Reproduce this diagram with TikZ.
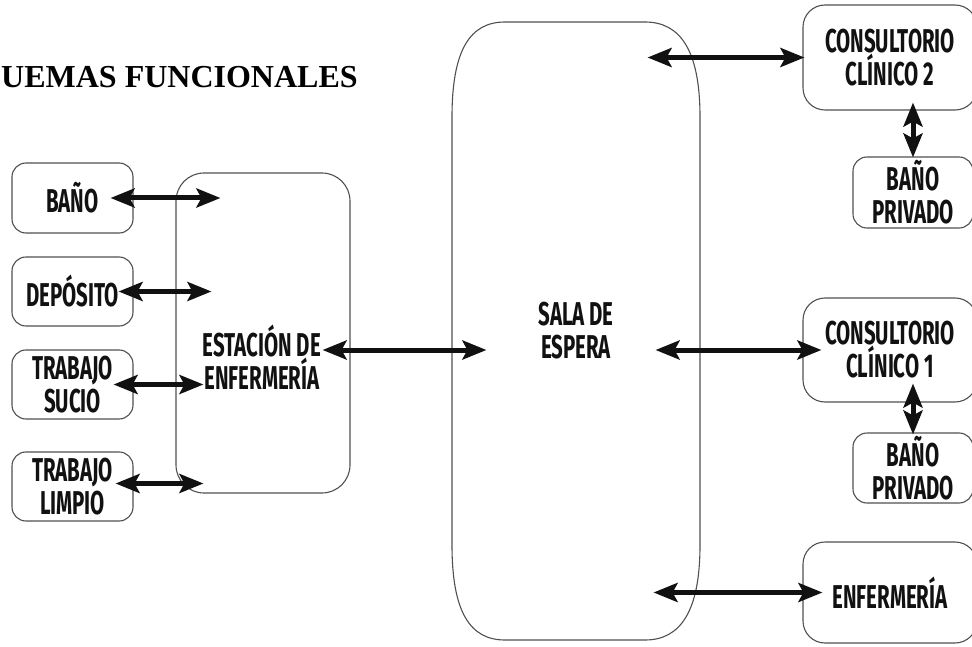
\documentclass[tikz,border=0pt]{standalone}
\usepackage{fontspec}
\setmainfont{Liberation Serif}
\newfontfamily\roomfont[FakeStretch=0.62]{Fira Sans}
\usepackage{tikz}
\usetikzlibrary{arrows.meta, calc, positioning}
\definecolor{boxgray}{HTML}{505050}
\definecolor{inkblack}{HTML}{111111}

\tikzset{
  room/.style={draw=boxgray, line width=1.1pt, rounded corners=14pt, inner sep=0pt,
    align=center, text=inkblack, font=\roomfont\bfseries\fontsize{33}{33}\selectfont},
  biarrow/.style={draw=inkblack, line width=5pt,
    {Stealth[length=24pt,width=19pt,inset=5pt]}-{Stealth[length=24pt,width=19pt,inset=5pt]}}
}

\begin{document}
\begin{tikzpicture}[x=1pt, y=-1pt]
		\useasboundingbox (0,0) rectangle (972,647);
		\clip (0,0) rectangle (972,647);
		\node[anchor=base west, inner sep=0pt, font=\bfseries\fontsize{32}{36}\selectfont] (title) at (1,88) {UEMAS FUNCIONALES};
		
		% left side
		\node[room, minimum width=121pt, minimum height=70pt] (banio) at (72.5,198) {BAÑO};
		\node[room, minimum width=121pt, minimum height=69pt] (deposito) at (72.5,291.5) {DEPÓSITO};
		\node[room, minimum width=121pt, minimum height=69pt] (sucio) at (72.5,384.5) {TRABAJO\\SUCIO};
		\node[room, minimum width=121pt, minimum height=69pt] (limpio) at (72.5,486.5) {TRABAJO\\LIMPIO};
		\node[room, rounded corners=28pt, minimum width=174pt, minimum height=320pt] (estacion) at (263,333) {};
		\node[room, draw=none] (estTxt) at (262,357) {ESTACIÓN DE\\ENFERMERÍA};
		
		% waiting room
		\node[room, draw=none, minimum width=248pt, minimum height=618pt] (sala) at (576,331) {SALA DE\\ESPERA};
		\draw[draw=boxgray, line width=1.1pt] (452,117) .. controls (452,50) and (470,22) .. (505,22) -- (645,22)
			.. controls (680,22) and (700,50) .. (700,117) -- (700,545)
			.. controls (700,612) and (680,640) .. (645,640) -- (505,640)
			.. controls (470,640) and (452,612) .. (452,545) -- cycle;
		
		% right side
		\node[room, rounded corners=22pt, minimum width=174pt, minimum height=105pt] (cons2) at (890,57.5) {CONSULTORIO\\CLÍNICO 2};
		\node[room, minimum width=120pt, minimum height=71pt] (banoA) at (913,192.5) {BAÑO\\PRIVADO};
		\node[room, rounded corners=22pt, minimum width=174pt, minimum height=104pt] (cons1) at (890,350) {CONSULTORIO\\CLÍNICO 1};
		\node[room, minimum width=120pt, minimum height=70pt] (banoB) at (913,468) {BAÑO\\PRIVADO};
		\node[room, rounded corners=22pt, minimum width=174pt, minimum height=101pt] (enfer) at (890,592.5) {ENFERMERÍA};
		
		% connections
		\draw[biarrow, shorten <=-23pt, shorten >=-45pt] (banio.east) -- (estacion.west |- banio.east);
		\draw[biarrow, shorten <=-15pt, shorten >=-36pt] (deposito.east) -- (estacion.west |- deposito.east);
		\draw[biarrow, shorten <=-20pt, shorten >=-28pt] (sucio.east) -- (estacion.west |- sucio.east);
		\draw[biarrow, shorten <=-18pt, shorten >=-28pt] ([yshift=3pt]limpio.east) -- ([yshift=3pt]estacion.west |- limpio.east);
		\draw[biarrow, shorten <=-28pt, shorten >=-35pt] ([yshift=-17pt]estacion.east) -- ([yshift=-19pt]sala.west);
		\draw[biarrow, shorten <=-53pt, shorten >=-2pt] (sala.east |- cons2.west) -- (cons2.west);
		\draw[biarrow, shorten <=-45pt, shorten >=-19pt] (sala.east |- cons1.west) -- (cons1.west);
		\draw[biarrow, shorten <=-47pt, shorten >=-20pt] (sala.east |- enfer.west) -- (enfer.west);
		\draw[biarrow, shorten <=-8pt, shorten >=-1pt] (banoA.north |- cons2.south) -- (banoA.north);
		\draw[biarrow, shorten <=-19pt, shorten >=-2pt] (banoB.north |- cons1.south) -- (banoB.north);
\end{tikzpicture}
\end{document}
